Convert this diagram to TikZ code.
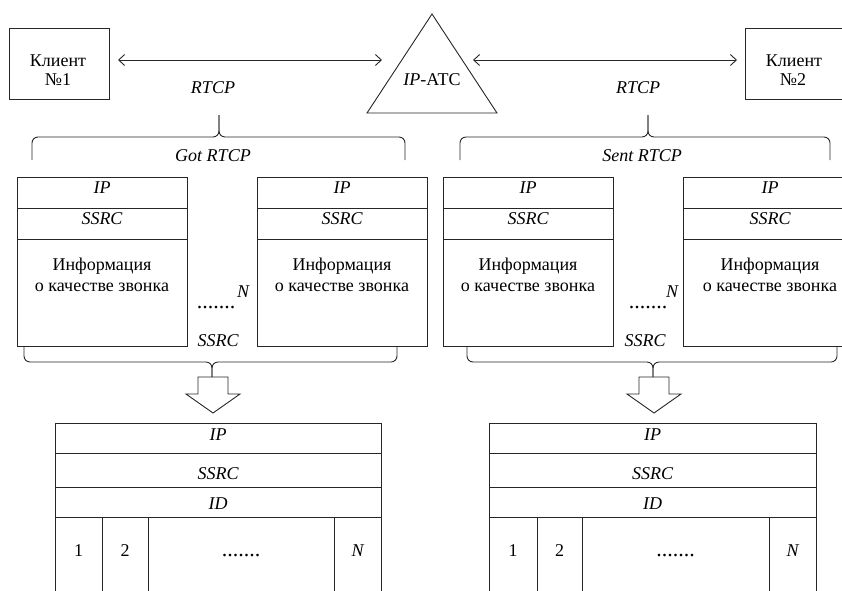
\documentclass[tikz,border=0pt]{standalone}
\usepackage{fontspec}
\setmainfont{Liberation Serif}
\newfontfamily\tnr{Liberation Serif}
\usetikzlibrary{arrows.meta}
\begin{document}
\begin{tikzpicture}[x=1pt,y=-1pt,
  ln/.style={line width=0.9pt, draw=black!85},
  lbl/.style={inner sep=0pt, anchor=base, font=\tnr\fontsize{18}{20}\selectfont},
  itl/.style={lbl, font=\tnr\fontsize{18}{20}\selectfont\itshape},
  dots/.style={inner sep=0pt, anchor=base, font=\tnr\fontsize{22}{24}\selectfont},
  dbl/.style={ln, {Straight Barb[length=6pt,width=11pt]}-{Straight Barb[length=6pt,width=11pt]}},
  bx/.style={ln, draw, inner sep=0pt},
]
\useasboundingbox (0,0) rectangle (842,590);
\clip (0,0) rectangle (842,590);

% ---------- top row ----------
\node[bx, minimum width=100pt, minimum height=71pt] (c1) at (59,63.5) {};
\node[lbl] (c1a) at (58,66) {Клиент};
\node[lbl] (c1b) at (58,85) {№1};
\node[bx, minimum width=100pt, minimum height=71pt] (c2) at (795,63.5) {};
\node[lbl] (c2a) at (794,66) {Клиент};
\node[lbl] (c2b) at (793,85) {№2};

\coordinate (tA) at (432,14);
\coordinate (tL) at (367,113);
\coordinate (tR) at (497,113);
\draw[ln] (tA) -- (tL) -- (tR) -- cycle;
\node[lbl] (atc) at (432,85) {\textit{IP}-АТС};

\coordinate (a1l) at (118,60);
\coordinate (a1r) at (382,60);
\coordinate (a2l) at (473,60);
\coordinate (a2r) at (737,60);
\draw[dbl] (a1l) -- (a1r);
\draw[dbl] (a2l) -- (a2r);
\node[itl] (r1) at (213,93) {RTCP};
\node[itl] (r2) at (638,93) {RTCP};

% ---------- top braces ----------
\draw[ln, rounded corners=6pt] (32,160) -- (32,137) -- (219,137) -- (219,115);
\draw[ln, rounded corners=6pt] (405,160) -- (405,137) -- (219,137) -- (219,115);
\node[itl] (got) at (213,161) {Got RTCP};
\draw[ln, rounded corners=6pt] (460,160) -- (460,137) -- (648,137) -- (648,115);
\draw[ln, rounded corners=6pt] (830,160) -- (830,137) -- (648,137) -- (648,115);
\node[itl] (sent) at (642,161) {Sent RTCP};

% ---------- middle boxes ----------
\foreach \nm/\xl/\xr in {m1/17/187, m2/257/427, m3/443/613, m4/683/857}{
  \draw[ln] (\xl,177) rectangle (\xr,346);
  \draw[ln] (\xl,208) -- (\xr,208);
  \draw[ln] (\xl,239) -- (\xr,239);
  \node[itl] (\nm ip) at ({(\xl+\xr)/2},193) {IP};
  \node[itl] (\nm ss) at ({(\xl+\xr)/2},224) {SSRC};
  \node[lbl] (\nm i1) at ({(\xl+\xr)/2},270) {Информация};
  \node[lbl] (\nm i2) at ({(\xl+\xr)/2},291) {о качестве звонка};
}
\node[dots] (d1) at (216,308) {.......};
\node[itl] (n1) at (243,297) {N};
\node[itl] (s1) at (218,346) {SSRC};
\node[dots] (d2) at (648,308) {.......};
\node[itl] (n2) at (672,297) {N};
\node[itl] (s2) at (645,346) {SSRC};

% ---------- bottom braces ----------
\draw[ln, rounded corners=6pt] (24,347) -- (24,362) -- (212,362) -- (212,377);
\draw[ln, rounded corners=6pt] (397,347) -- (397,362) -- (212,362) -- (212,377);
\draw[ln, rounded corners=6pt] (467,347) -- (467,362) -- (653,362) -- (653,377);
\draw[ln, rounded corners=6pt] (837,347) -- (837,362) -- (653,362) -- (653,377);

% ---------- block arrows ----------
\draw[ln] (198,377) -- (228,377) -- (228,394) -- (240,394) -- (213,413) -- (186,394) -- (198,394) -- cycle;
\draw[ln] (639,377) -- (669,377) -- (669,394) -- (681,394) -- (654,413) -- (627,394) -- (639,394) -- cycle;

% ---------- bottom tables ----------
\foreach \nm/\xl/\xr/\ca/\cb/\cc in {t1/55/381/102/148/334, t2/489/816/537/582/769}{
  \draw[ln] (\xl,600) -- (\xl,423) -- (\xr,423) -- (\xr,600);
  \draw[ln] (\xl,453) -- (\xr,453);
  \draw[ln] (\xl,487) -- (\xr,487);
  \draw[ln] (\xl,517) -- (\xr,517);
  \draw[ln] (\ca,517) -- (\ca,600);
  \draw[ln] (\cb,517) -- (\cb,600);
  \draw[ln] (\cc,517) -- (\cc,600);
  \node[itl] (\nm ip) at ({(\xl+\xr)/2},440) {IP};
  \node[itl] (\nm ss) at ({(\xl+\xr)/2},479) {SSRC};
  \node[itl] (\nm id) at ({(\xl+\xr)/2},509) {ID};
  \node[lbl] (\nm c1) at ({(\xl+\ca)/2},556) {1};
  \node[lbl] (\nm c2) at ({(\ca+\cb)/2},556) {2};
  \node[dots] (\nm cd) at ({(\cb+\cc)/2},556) {.......};
  \node[itl] (\nm cn) at ({(\cc+\xr)/2},556) {N};
}
\end{tikzpicture}
\end{document}
